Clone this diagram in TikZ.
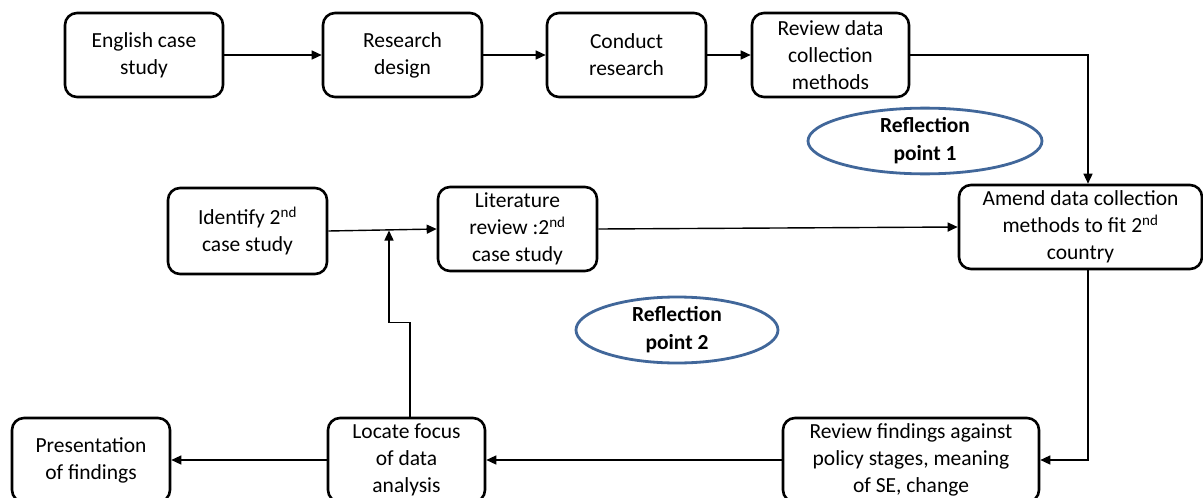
\documentclass[tikz,border=0pt]{standalone}
\usepackage{fontspec}
\setmainfont{Carlito}
\usetikzlibrary{arrows.meta,shapes.geometric}
\definecolor{ringblue}{HTML}{41679A}
\tikzset{
  stepbox/.style={draw=black, line width=2.6pt, rounded corners=12pt, fill=white,
    align=center, inner sep=0pt, font=\fontsize{21.5}{27}\selectfont},
  conn/.style={draw=black, line width=1.4pt, -{Triangle[length=10pt,width=9pt]}},
  plainline/.style={draw=black, line width=1.4pt},
  ring/.style={draw=ringblue, line width=2.8pt, ellipse, inner sep=0pt,
    align=center, font=\bfseries\fontsize{21.5}{28}\selectfont},
}
\begin{document}
\begin{tikzpicture}[x=1pt, y=-1pt]
  \useasboundingbox (0,0) rectangle (1203,498);
  \clip (0,0) rectangle (1203,498);
  \fill[white] (0,0) rectangle (1203,498);

  % top row
  \node[stepbox, minimum width=158pt, minimum height=84pt] (eng) at (144,55) {English case\\study};
  \node[stepbox, minimum width=159pt, minimum height=84pt] (rd) at (402.5,55) {Research\\design};
  \node[stepbox, minimum width=159pt, minimum height=84pt] (cr) at (626.5,55) {Conduct\\research};
  \node[stepbox, minimum width=157pt, minimum height=84pt] (rv) at (830.5,55) {Review data\\collection\\methods};

  % middle row
  \node[stepbox, minimum width=243pt, minimum height=84pt] (am) at (1080.5,227) {Amend data collection\\methods to fit 2\textsuperscript{nd}\\country};
  \node[stepbox, minimum width=159pt, minimum height=86pt] (id) at (247.5,231) {Identify 2\textsuperscript{nd}\\case study};
  \node[stepbox, minimum width=159pt, minimum height=84pt] (lit) at (517.5,229) {Literature\\review :2\textsuperscript{nd}\\case study};

  % bottom row
  \node[stepbox, minimum width=256pt, minimum height=84pt] (rf) at (911,460) {Review findings against\\policy stages, meaning\\of SE, change};
  \node[stepbox, minimum width=157pt, minimum height=84pt] (loc) at (406.5,460) {Locate focus\\of data\\analysis};
  \node[stepbox, minimum width=158pt, minimum height=84pt] (pres) at (91,460) {Presentation\\of findings};

  % reflection points
  \node[ring, minimum width=234pt, minimum height=64pt] (r1) at (925,141) {Reflection\\point 1};
  \node[ring, minimum width=202pt, minimum height=66pt] (r2) at (677,330) {Reflection\\point 2};

  % connectors
  \draw[conn] (eng) -- (rd);
  \draw[conn] (rd) -- (cr);
  \draw[conn] (cr.east) -- (rv.west);
  \draw[conn] (rv.east) -| ([xshift=7.5pt]am.north);
  \draw[conn] (lit.east) -- (am.west);
  \draw[conn] ([xshift=7.5pt]am.south) |- (rf.east);
  \draw[conn] (rf.west) -- (loc.east);
  \draw[conn] (loc.west) -- (pres.east);
  \coordinate (jn) at (389,230.5);
  \draw[conn] (id.east) -- (lit.west);
  \draw[conn] ([xshift=3.5pt]loc.north) -- ++(0,-94) -| (jn);
\end{tikzpicture}
\end{document}
